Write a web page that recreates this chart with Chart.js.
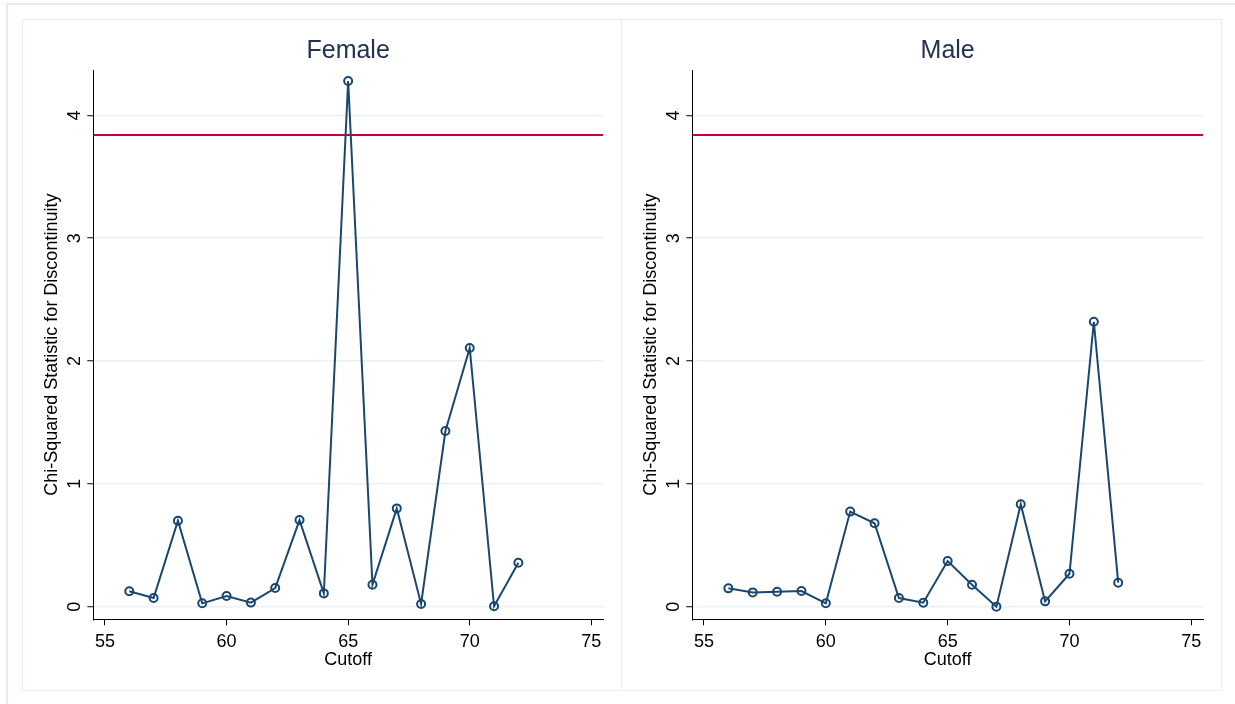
<!DOCTYPE html>
<html>
<head>
<meta charset="utf-8">
<script src="https://cdn.jsdelivr.net/npm/chart.js@4.4.1/dist/chart.umd.min.js"></script>
<style>
html, body { margin: 0; padding: 0; background: #ffffff; width: 1235px; height: 704px; overflow: hidden; }
#outer { position: absolute; left: 6px; top: 3px; width: 1260px; height: 720px; border-top: 2px solid #e6ebef; border-left: 2px solid #e6ebef; box-sizing: border-box; }
.panel { position: absolute; top: 19px; height: 672px; border: 1px solid #e6eff1; box-sizing: border-box; }
canvas { position: absolute; }
</style>
</head>
<body>
<div id="outer"></div>
<div class="panel" style="left:22px;width:600px;"></div>
<div class="panel" style="left:621px;width:601px;"></div>
<canvas id="female" width="598" height="671" style="left:22px;top:19px;"></canvas>
<canvas id="male" width="600" height="671" style="left:621px;top:19px;"></canvas>
<script>
// ---- data ----
const cutoffs = [56, 57, 58, 59, 60, 61, 62, 63, 64, 65, 66, 67, 68, 69, 70, 71, 72];
const femaleChi2 = [0.125, 0.07, 0.70, 0.027, 0.087, 0.033, 0.152, 0.705, 0.108, 4.28, 0.179, 0.80, 0.022, 1.43, 2.106, 0.003, 0.358];
const maleChi2 = [0.149, 0.116, 0.122, 0.127, 0.027, 0.774, 0.679, 0.070, 0.032, 0.371, 0.179, 0.0, 0.834, 0.043, 0.268, 2.32, 0.195];
const criticalValue = 3.84;
const xTickValues = [55, 60, 65, 70, 75];
const yTickValues = [0, 1, 2, 3, 4];
const panelTitles = ['Female', 'Male'];
const xAxisTitle = 'Cutoff';
const yAxisTitle = 'Chi-Squared Statistic for Discontinuity';

const X_MIN = 54.52, X_MAX = 75.48, Y_MIN = -0.103, Y_MAX = 4.37;
const FONT = 'Liberation Sans, Arial, Helvetica, sans-serif';

function makeChart(id, title, values, rightPad) {
  const points = cutoffs.map((c, i) => ({ x: c, y: values[i] }));
  const refLine = [{ x: X_MIN, y: criticalValue }, { x: X_MAX, y: criticalValue }];
  return new Chart(document.getElementById(id), {
    type: 'line',
    data: {
      datasets: [
        {
          data: points,
          borderColor: '#1a476f',
          borderWidth: 2,
          pointStyle: 'circle',
          pointRadius: 4,
          pointBorderWidth: 2,
          pointBorderColor: '#1a476f',
          pointBackgroundColor: 'rgba(0,0,0,0)',
          tension: 0,
          order: 1
        },
        {
          data: refLine,
          borderColor: '#c10534',
          borderWidth: 2,
          pointRadius: 0,
          order: 2
        }
      ]
    },
    options: {
      responsive: false,
      animation: false,
      devicePixelRatio: 1,
      layout: { padding: { left: 0, right: rightPad, top: 0, bottom: 0 } },
      plugins: {
        legend: { display: false },
        tooltip: { enabled: false },
        title: {
          display: true,
          text: title,
          fullSize: false,
          color: '#23324f',
          font: { family: FONT, size: 25, weight: 'normal', lineHeight: 1.2 },
          padding: { top: 17, bottom: 4 }
        }
      },
      scales: {
        x: {
          type: 'linear',
          min: X_MIN,
          max: X_MAX,
          afterBuildTicks: (s) => { s.ticks = xTickValues.map(v => ({ value: v })); },
          afterFit: (s) => { s.height = 70.7; },
          grid: { drawOnChartArea: false, drawTicks: true, tickLength: 6, tickColor: '#000', tickWidth: 1 },
          border: { display: true, color: '#000', width: 1 },
          ticks: { color: '#000', padding: 6, maxRotation: 0, minRotation: 0, font: { family: FONT, size: 18 } },
          title: { display: true, text: xAxisTitle, color: '#000', font: { family: FONT, size: 18, lineHeight: 1.2 }, padding: { top: 0, bottom: 19 } }
        },
        y: {
          type: 'linear',
          min: Y_MIN,
          max: Y_MAX,
          afterBuildTicks: (s) => { s.ticks = yTickValues.map(v => ({ value: v })); },
          afterFit: (s) => { s.width = 71.3; },
          grid: { color: '#eaf1f3', lineWidth: 1.5, drawTicks: true, tickLength: 6, tickColor: '#000', tickWidth: 1 },
          border: { display: true, color: '#000', width: 1 },
          ticks: { color: '#000', padding: 7, crossAlign: 'center', minRotation: 90, maxRotation: 90, font: { family: FONT, size: 18 } },
          title: { display: true, text: yAxisTitle, color: '#000', font: { family: FONT, size: 18, lineHeight: 1.2 }, padding: { top: 19, bottom: 0 } }
        }
      }
    }
  });
}

makeChart('female', panelTitles[0], femaleChi2, 17);
makeChart('male', panelTitles[1], maleChi2, 18);
</script>
</body>
</html>
